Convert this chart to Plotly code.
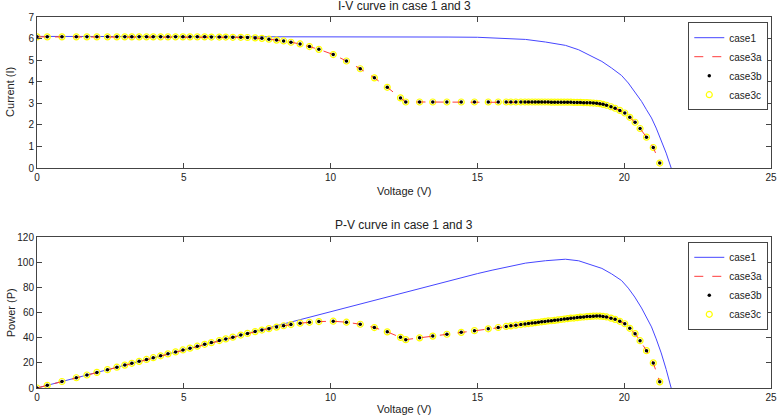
import plotly.graph_objects as go

# ---- data ----
case1_v = [0, 2, 4, 6, 8, 10, 12, 14, 15, 15.5, 16, 16.64, 17.32, 18.0, 18.45, 18.9, 19.24,
           19.57, 19.91, 20.14, 20.36, 20.59, 20.76, 20.93, 21.09, 21.26, 21.43, 21.6]
case1_i = [6.10, 6.10, 6.10, 6.10, 6.09, 6.09, 6.08, 6.07, 6.06, 6.04, 6.01, 5.96, 5.84, 5.685,
           5.48, 5.175, 4.94, 4.635, 4.29, 3.94, 3.55, 3.09, 2.70, 2.32, 1.85, 1.31, 0.69, 0.0]
case1_p = [0, 12.2, 24.4, 36.6, 48.72, 60.9, 72.96, 84.98, 90.9, 93.62, 96.16, 99.25, 101.15,
           102.33, 101.1, 97.81, 95.05, 90.71, 85.41, 79.35, 72.28, 63.62, 56.05, 48.56, 39.02,
           27.85, 14.79, 0.0]

case3_v = [0, 0.35, 0.85, 1.34, 1.70, 2.04, 2.40, 2.72, 2.99, 3.23, 3.48, 3.73, 3.96, 4.21,
           4.46, 4.72, 4.97, 5.21, 5.46, 5.71, 5.94, 6.21, 6.43, 6.67, 6.94, 7.17, 7.43, 7.66,
           7.90, 8.16, 8.40, 8.65, 8.96, 9.28, 9.60, 10.09, 10.54, 11.01, 11.49, 11.93, 12.38,
           12.56, 13.03, 13.48, 13.96, 14.45, 14.90, 15.37, 15.71, 15.98, 16.14, 16.31, 16.48,
           16.62, 16.74, 16.86, 16.97, 17.08, 17.19, 17.30, 17.41, 17.52, 17.63, 17.74, 17.85,
           17.96, 18.07, 18.18, 18.29, 18.40, 18.51, 18.62, 18.73, 18.84, 18.95, 19.06, 19.17,
           19.28, 19.40, 19.55, 19.69, 19.85, 20.02, 20.19, 20.37, 20.54, 20.76, 20.99, 21.21]
case3_i = [6.08, 6.08, 6.08, 6.08, 6.08, 6.08, 6.08, 6.08, 6.08, 6.08, 6.08, 6.08, 6.08, 6.08,
           6.08, 6.08, 6.08, 6.08, 6.08, 6.08, 6.07, 6.07, 6.07, 6.06, 6.06, 6.05, 6.03, 6.01,
           5.97, 5.93, 5.89, 5.83, 5.75, 5.63, 5.50, 5.26, 4.96, 4.60, 4.18, 3.74, 3.25,
           3.06, 3.06, 3.06, 3.06, 3.06, 3.06, 3.06, 3.06, 3.06, 3.06, 3.06, 3.06,
           3.06, 3.06, 3.06, 3.06, 3.06, 3.06, 3.06, 3.06, 3.05, 3.05, 3.05, 3.05,
           3.05, 3.05, 3.05, 3.04, 3.04, 3.04, 3.03, 3.03, 3.02, 3.01, 3.00, 2.98,
           2.95, 2.91, 2.84, 2.77, 2.67, 2.55, 2.35, 2.12, 1.83, 1.43, 0.95, 0.23]
case3_p = [0, 2.13, 5.17, 8.15, 10.34, 12.40, 14.59, 16.54, 18.18, 19.64, 21.16, 22.68, 24.08,
           25.60, 27.12, 28.70, 30.22, 31.68, 33.20, 34.72, 36.06, 37.69, 39.03, 40.42, 42.06,
           43.38, 44.80, 46.04, 47.16, 48.39, 49.48, 50.43, 51.52, 52.25, 52.80, 53.07, 52.28,
           50.65, 48.03, 44.62, 40.24, 38.43, 39.87, 41.25, 42.72, 44.22, 45.59, 47.03, 48.07,
           48.90, 49.39, 49.91, 50.43, 50.86, 51.22, 51.59, 51.93, 52.26, 52.60, 52.94, 53.27,
           53.44, 53.77, 54.11, 54.44, 54.78, 55.11, 55.45, 55.60, 55.94, 56.27, 56.42, 56.75,
           56.90, 57.04, 57.18, 57.13, 56.88, 56.45, 55.52, 54.54, 53.00, 51.05, 47.45, 43.18,
           37.59, 29.69, 19.94, 4.88]

x_ticks = [0, 5, 10, 15, 20, 25]
iv_ticks = [0, 1, 2, 3, 4, 5, 6, 7]
pv_ticks = [0, 20, 40, 60, 80, 100, 120]

FONT = "Liberation Sans, Arial, sans-serif"
BLUE = "rgb(70,70,255)"
RED = "rgb(255,60,60)"
TXT = "#222"

fig = go.Figure()


def add_set(y1, y3, xa, ya, leg):
    fig.add_trace(go.Scatter(x=case1_v, y=y1, mode="lines", name="case1",
                             line=dict(color=BLUE, width=1), xaxis=xa, yaxis=ya,
                             legend=leg, legendrank=1))
    fig.add_trace(go.Scatter(x=case3_v, y=y3, mode="markers", name="case3c",
                             marker=dict(symbol="circle-open", size=6, color="yellow",
                                         line=dict(width=1.2, color="yellow")),
                             xaxis=xa, yaxis=ya, legend=leg, legendrank=4))
    fig.add_trace(go.Scatter(x=case3_v, y=y3, mode="lines", name="case3a",
                             line=dict(color=RED, width=1, dash="dash"), xaxis=xa, yaxis=ya,
                             legend=leg, legendrank=2))
    fig.add_trace(go.Scatter(x=case3_v, y=y3, mode="markers", name="case3b",
                             marker=dict(symbol="circle", size=3.5, color="black"),
                             xaxis=xa, yaxis=ya, legend=leg, legendrank=3))


add_set(case1_i, case3_i, "x", "y", "legend")
add_set(case1_p, case3_p, "x2", "y2", "legend2")

axis_common = dict(showgrid=False, zeroline=False, showline=True, mirror="ticks",
                   linecolor="#444", linewidth=1, ticks="inside", ticklen=5,
                   tickcolor="#444", tickfont=dict(family=FONT, size=10, color=TXT))

legend_common = dict(xanchor="right", yanchor="top", bordercolor="#444", borderwidth=1,
                     bgcolor="white", font=dict(family=FONT, size=10, color=TXT),
                     tracegroupgap=0, itemwidth=30)


def label(text, x, y, size=11, angle=0):
    return dict(text=text, x=x, y=y, xref="paper", yref="paper", xanchor="center",
                yanchor="middle", textangle=angle, showarrow=False,
                font=dict(family=FONT, size=size, color=TXT))


fig.update_layout(
    width=784, height=419,
    margin=dict(l=37, r=7, t=17, b=31),
    paper_bgcolor="white", plot_bgcolor="white",
    font=dict(family=FONT, size=11, color=TXT),
    xaxis=dict(domain=[0, 1], anchor="y", range=[0, 25], tickvals=x_ticks, **axis_common),
    yaxis=dict(domain=[0.593, 1], anchor="x", range=[0, 7], tickvals=iv_ticks, **axis_common),
    xaxis2=dict(domain=[0, 1], anchor="y2", range=[0, 25], tickvals=x_ticks, **axis_common),
    yaxis2=dict(domain=[0, 0.407], anchor="x2", range=[0, 120], tickvals=pv_ticks,
                **axis_common),
    legend=dict(x=0.9963, y=0.986, **legend_common),
    legend2=dict(x=0.9963, y=0.394, **legend_common),
    annotations=[
        label("I-V curve in case 1 and 3", 0.5, 1.030, size=12),
        label("P-V curve in case 1 and 3", 0.5, 0.440, size=12),
        label("Voltage (V)", 0.5, 0.530),
        label("Voltage (V)", 0.5, -0.057),
        label("Current (I)", -0.036, 0.797, angle=-90),
        label("Power (P)", -0.036, 0.203, angle=-90),
    ],
)

fig.write_html("out.html", config={"displayModeBar": False},
               post_script="document.body.style.margin='0';")
